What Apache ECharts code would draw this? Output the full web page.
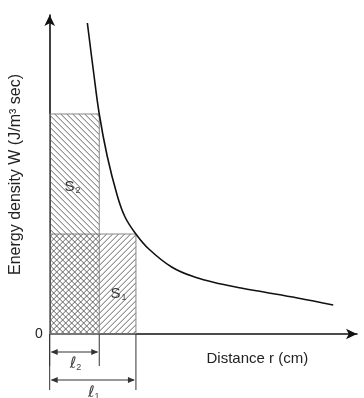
<!DOCTYPE html>
<html>
<head>
<meta charset="utf-8">
<script src="https://cdn.jsdelivr.net/npm/echarts@6/dist/echarts.min.js"></script>
<style>
  html, body { margin: 0; padding: 0; background: #fff; }
  #chart { width: 364px; height: 398px; }
</style>
</head>
<body>
<div id="chart"></div>
<script>
// Energy density curve W(r), in plot units (r, W)
const curveR = [3.8, 4.4, 5.0, 5.8, 6.8, 7.6, 8.7, 10.0, 12.3, 14.6, 17.3, 19.3, 21.6, 25.0, 28.6];
const curveW = [31.1, 26.4, 22.0, 17.8, 13.9, 11.7, 10.0, 8.5, 6.7, 5.7, 5.0, 4.6, 4.2, 3.6, 2.9];

// Rectangular areas under the curve: S1 spans r in [0, l1], S2 spans r in [0, l2]
const areaNames = ['1', '2'];          // subscripts of S and ℓ
const areaWidths = [8.7, 5.0];         // ℓ1, ℓ2
const areaHeights = [10.0, 22.0];      // W(ℓ1), W(ℓ2)

const xMax = 31.0;
const yMax = 31.9;

const chart = echarts.init(document.getElementById('chart'), null, { renderer: 'canvas' });

const hatchColor = '#555';
const dimColor = '#333';
const fontFam = '"Liberation Sans", Arial, sans-serif';

// Diagonal hatch segments clipped to a pixel rectangle
function hatchLines(x0, y0, x1, y1, dir, step) {
  const out = [];
  if (dir > 0) {
    // "/" lines: x + y = c
    for (let c = x0 + y0 + step / 2; c < x1 + y1; c += step) {
      const xa = Math.max(x0, c - y1), xb = Math.min(x1, c - y0);
      if (xb > xa) out.push([xa, c - xa, xb, c - xb]);
    }
  } else {
    // "\" lines: x - y = c
    for (let c = x0 - y1 + step / 2; c < x1 - y0; c += step) {
      const xa = Math.max(x0, c + y0), xb = Math.min(x1, c + y1);
      if (xb > xa) out.push([xa, xa - c, xb, xb - c]);
    }
  }
  return out;
}

function arrowHead(x, y, dir) {
  // dir = -1 points left, +1 points right
  return {
    type: 'polygon',
    shape: { points: [[x, y], [x - dir * 7, y - 3], [x - dir * 7, y + 3]] },
    style: { fill: dimColor }
  };
}

function renderArea(params, api) {
  const idx = api.value(2);
  const l = api.value(0), h = api.value(1);
  const p0 = api.coord([0, h]);
  const p1 = api.coord([l, 0]);
  const x0 = p0[0], y0 = p0[1], x1 = p1[0], y1 = p1[1];
  const dir = idx === 0 ? 1 : -1;
  const children = [];

  hatchLines(x0, y0, x1, y1, dir, 6).forEach(s => {
    children.push({
      type: 'line',
      shape: { x1: s[0], y1: s[1], x2: s[2], y2: s[3] },
      style: { stroke: hatchColor, lineWidth: 0.9 }
    });
  });
  children.push({
    type: 'rect',
    shape: { x: x0, y: y0, width: x1 - x0, height: y1 - y0 },
    style: { fill: null, stroke: '#888', lineWidth: 1 }
  });

  // S label
  let lx, ly;
  if (idx === 0) {
    const other = api.coord([(areaWidths[1] + l) / 2, h / 2]);
    lx = other[0] + 1; ly = other[1] + 10;
  } else {
    const mid = api.coord([l / 2, (h + areaHeights[0]) / 2]);
    lx = mid[0] - 2; ly = mid[1] + 13;
  }
  children.push({
    type: 'text',
    x: lx, y: ly,
    style: {
      text: '{a|S}{b|' + areaNames[idx] + '}',
      align: 'center', verticalAlign: 'middle',
      rich: {
        a: { fontSize: 15, fontFamily: fontFam, fill: '#333', lineHeight: 16 },
        b: { fontSize: 9, fontFamily: fontFam, fill: '#444', verticalAlign: 'bottom', lineHeight: 12, padding: [0, 0, 0, 1] }
      }
    }
  });

  // Dimension lines below the axis
  const depth = idx === 0 ? 56 : 32;
  const arrowY = y1 + (idx === 0 ? 46 : 18);
  const labelY = y1 + (idx === 0 ? 59 : 30);
  children.push({
    type: 'line', shape: { x1: x1, y1: y1, x2: x1, y2: y1 + depth },
    style: { stroke: dimColor, lineWidth: 1 }
  });
  children.push({
    type: 'line', shape: { x1: x0, y1: y1, x2: x0, y2: y1 + depth },
    style: { stroke: dimColor, lineWidth: 1 }
  });
  children.push({
    type: 'line', shape: { x1: x0 + 2, y1: arrowY, x2: x1 - 2, y2: arrowY },
    style: { stroke: dimColor, lineWidth: 1 }
  });
  children.push(arrowHead(x0 + 1, arrowY, -1));
  children.push(arrowHead(x1 - 1, arrowY, 1));
  children.push({
    type: 'text',
    x: (x0 + x1) / 2 + 1, y: labelY,
    style: {
      text: '{a|ℓ}{b|' + areaNames[idx] + '}',
      align: 'center', verticalAlign: 'middle',
      rich: {
        a: { fontSize: 16, fontFamily: '"DejaVu Sans", sans-serif', fill: '#444', lineHeight: 16 },
        b: { fontSize: 9, fontFamily: fontFam, fill: '#444', verticalAlign: 'bottom', lineHeight: 12 }
      }
    }
  });

  return { type: 'group', children: children };
}

const option = {
  animation: false,
  backgroundColor: '#fff',
  grid: { left: 47, right: 364 - 357, top: 15, bottom: 64, containLabel: false },
  xAxis: {
    type: 'value', min: 0, max: xMax,
    name: 'Distance r (cm)',
    nameLocation: 'middle', nameGap: 17,
    nameTextStyle: { fontSize: 15, fontFamily: fontFam, color: '#222', padding: [0, 0, 0, 108], verticalAlign: 'top' },
    axisLine: { show: true, symbol: ['none', 'arrow'], symbolSize: [8, 11], lineStyle: { color: '#111', width: 1.6 } },
    axisTick: { show: false },
    axisLabel: { show: false },
    splitLine: { show: false }
  },
  yAxis: {
    type: 'value', min: 0, max: yMax, interval: yMax,
    name: 'Energy density W (J/m³ sec)',
    nameLocation: 'middle', nameGap: 21, nameRotate: 90,
    nameTextStyle: { fontSize: 16, fontFamily: fontFam, color: '#222' },
    axisLine: { show: true, symbol: ['none', 'arrow'], symbolSize: [8, 11], lineStyle: { color: '#111', width: 1.6 } },
    axisTick: { show: false },
    axisLabel: {
      show: true, margin: 7, fontSize: 14, fontFamily: fontFam, color: '#222',
      formatter: v => (v === 0 ? '0' : '')
    },
    splitLine: { show: false }
  },
  series: [
    {
      type: 'custom',
      clip: false,
      renderItem: renderArea,
      encode: { x: 0, y: 1 },
      data: areaWidths.map((l, i) => [l, areaHeights[i], i]),
      z: 2
    },
    {
      type: 'line',
      data: curveR.map((r, i) => [r, curveW[i]]),
      smooth: 0.4,
      showSymbol: false,
      lineStyle: { color: '#111', width: 1.6 },
      z: 5
    }
  ]
};

chart.setOption(option);
</script>
</body>
</html>
